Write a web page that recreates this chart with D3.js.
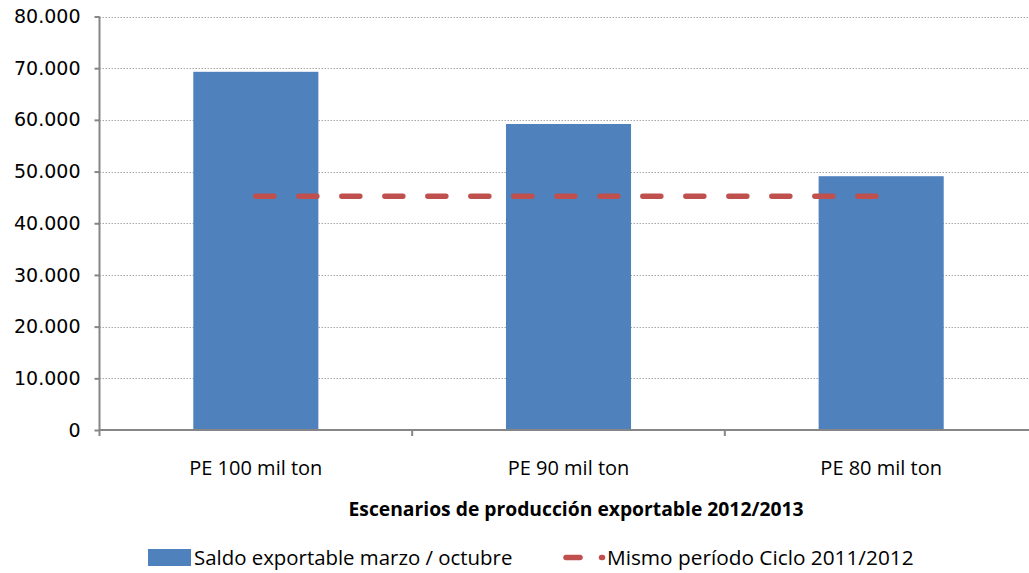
<!DOCTYPE html>
<html>
<head>
<meta charset="utf-8">
<title>Escenarios de producción exportable</title>
<script src="https://cdnjs.cloudflare.com/ajax/libs/d3/7.8.5/d3.min.js"></script>
<style>
  body { margin: 0; background: #fff; }
  text { fill: #000; }
</style>
</head>
<body>
<script>
// datos
var categorias = ["PE 100 mil ton", "PE 90 mil ton", "PE 80 mil ton"];
var saldo = [69300, 59200, 49100];
var cicloAnterior = [45200, 45200, 45200];
var yTicks = [0, 10000, 20000, 30000, 40000, 50000, 60000, 70000, 80000];
var serieNombres = ["Saldo exportable marzo / octubre", "Mismo período Ciclo 2011/2012"];
var tituloX = "Escenarios de producción exportable 2012/2013";

var W = 1029, H = 573;
var mLeft = 99.5, mRight = 1037.5, mTop = 16.5, mBottom = 430;
var azul = "#4F81BD", rojo = "#C0504D", gris = "#868686";
var fuente = "'Open Sans', sans-serif";

var svg = d3.select("body").append("svg")
    .attr("width", W)
    .attr("height", H);

var x = d3.scaleBand()
    .domain(categorias)
    .range([mLeft, mRight])
    .paddingInner(0.6)
    .paddingOuter(0.3);

var y = d3.scaleLinear()
    .domain([0, 80000])
    .range([mBottom, mTop]);

var fmt = function(v) { return v == 0 ? "0" : d3.format(",")(v).replace(/,/g, "."); };

// lineas de division
svg.append("g").selectAll("line")
    .data(yTicks.filter(function(d){ return d > 0; }))
  .enter().append("line")
    .attr("x1", mLeft).attr("x2", mRight)
    .attr("y1", function(d){ return Math.round(y(d)) + 0.5; })
    .attr("y2", function(d){ return Math.round(y(d)) + 0.5; })
    .style("stroke", "#a6a6a6")
    .style("stroke-dasharray", "1.5 1.5")
    .style("stroke-width", 1);

// barras
svg.append("g").selectAll("rect")
    .data(saldo)
  .enter().append("rect")
    .attr("x", function(d, i){ return x(categorias[i]); })
    .attr("y", function(d){ return y(d); })
    .attr("width", x.bandwidth())
    .attr("height", function(d){ return y(0) - y(d); })
    .style("fill", azul);

// eje y
var yAxis = svg.append("g")
    .attr("transform", "translate(" + mLeft + ",0)")
    .call(d3.axisLeft(y).tickValues(yTicks).tickSize(5).tickPadding(14).tickFormat(fmt));
yAxis.select(".domain").attr("d", "M0," + mTop + "V" + mBottom);
yAxis.selectAll("line, path").style("stroke", gris).style("stroke-width", 2);
yAxis.selectAll("text")
    .style("font-family", "'DejaVu Sans', sans-serif")
    .style("font-size", "19px")
    .style("fill", "#000");

// eje x
var xAxis = svg.append("g")
    .attr("transform", "translate(0," + mBottom + ")");
xAxis.append("line")
    .attr("x1", mLeft).attr("x2", mRight)
    .style("stroke", gris).style("stroke-width", 2);
xAxis.selectAll(".tk")
    .data(d3.range(categorias.length + 1))
  .enter().append("line")
    .attr("class", "tk")
    .attr("x1", function(d){ return mLeft + d * x.step(); })
    .attr("x2", function(d){ return mLeft + d * x.step(); })
    .attr("y1", 0).attr("y2", 6)
    .style("stroke", gris).style("stroke-width", 2);
xAxis.selectAll("text")
    .data(categorias)
  .enter().append("text")
    .attr("x", function(d){ return x(d) + x.bandwidth() / 2; })
    .attr("y", 45)
    .attr("text-anchor", "middle")
    .style("font-family", fuente)
    .style("font-size", "20px")
    .text(function(d){ return d; });

svg.append("text")
    .attr("x", 576)
    .attr("y", 516)
    .attr("text-anchor", "middle")
    .style("font-family", fuente)
    .style("font-weight", "bold")
    .style("font-size", "19.3px")
    .text(tituloX);

// linea ciclo anterior
var linea = d3.line()
    .x(function(d, i){ return x(categorias[i]) + x.bandwidth() / 2; })
    .y(function(d){ return y(d); });

svg.append("path")
    .datum(cicloAnterior)
    .attr("d", linea)
    .style("fill", "none")
    .style("stroke", rojo)
    .style("stroke-width", 5.5)
    .style("stroke-linecap", "round")
    .style("stroke-dasharray", "18 25");

// leyenda
var ley = svg.append("g");
ley.append("rect")
    .attr("x", 148).attr("y", 549)
    .attr("width", 43).attr("height", 17)
    .style("fill", azul);
ley.append("text")
    .attr("x", 194).attr("y", 565)
    .style("font-family", fuente)
    .style("font-size", "20.4px")
    .text(serieNombres[0]);
ley.append("line")
    .attr("x1", 566).attr("x2", 580).attr("y1", 557.5).attr("y2", 557.5)
    .style("stroke", rojo).style("stroke-width", 5.5).style("stroke-linecap", "round");
ley.append("line")
    .attr("x1", 601.5).attr("x2", 602.5).attr("y1", 557.5).attr("y2", 557.5)
    .style("stroke", rojo).style("stroke-width", 5.5).style("stroke-linecap", "round");
ley.append("text")
    .attr("x", 607).attr("y", 565)
    .style("font-family", fuente)
    .style("font-size", "20.8px")
    .text(serieNombres[1]);
</script>
</body>
</html>
